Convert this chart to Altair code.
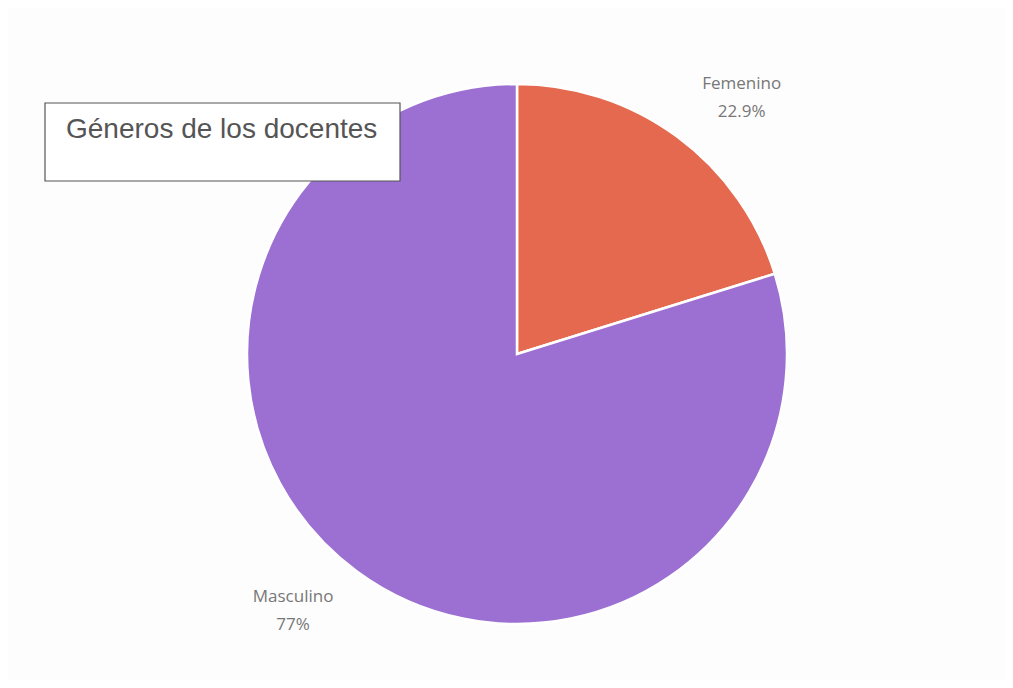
import altair as alt
import pandas as pd

categories = ["Femenino", "Masculino"]
# slice sizes as drawn in the picture
slice_values = [20.2, 79.8]
# values printed on the labels
label_values = [22.9, 77.0]
labels = ["22.9%", "77%"]
colors = ["#E5694F", "#9C6FD2"]

arcs = pd.DataFrame({"cat": categories, "val": slice_values, "order": [0, 1]})
labs = pd.DataFrame({"cat": categories, "val": label_values, "lab": labels, "order": [0, 1]})
labs["txt"] = labs["cat"] + "\n" + labs["lab"]

cx, cy = 509, 346

pie = alt.Chart(arcs).mark_arc(outerRadius=270, stroke="white", strokeWidth=2.5).encode(
    theta=alt.Theta("val:Q", stack=True),
    order=alt.Order("order:Q"),
    color=alt.Color("cat:N", scale=alt.Scale(domain=categories, range=colors), legend=None),
    x=alt.value(cx), y=alt.value(cy),
)

text = alt.Chart(labs).mark_text(radius=341, font="Open Sans", fontSize=17, color="#777777",
                      lineBreak="\n", lineHeight=28, baseline="middle", dy=-14).encode(
    theta=alt.Theta("val:Q", stack=True),
    order=alt.Order("order:Q"),
    text="txt:N",
    x=alt.value(cx), y=alt.value(cy),
)

box = alt.Chart(pd.DataFrame({"t": ["Géneros de los docentes"]})).mark_rect(
    fill="white", stroke="#555555", strokeWidth=1.2
).encode(x=alt.value(37), x2=alt.value(392), y=alt.value(95), y2=alt.value(173))

title = alt.Chart(pd.DataFrame({"t": ["Géneros de los docentes"]})).mark_text(
    font="Liberation Sans", fontSize=28, color="#555555", align="left", baseline="middle"
).encode(text="t:N", x=alt.value(58), y=alt.value(122))

chart = alt.layer(pie, box, title, text).properties(
    width=997, height=672, padding=0, autosize=alt.AutoSizeParams(type="none"),
    background="#FDFDFD"
).configure_view(stroke=None)

chart.save("out.html", embed_options={"renderer": "svg", "actions": False})
